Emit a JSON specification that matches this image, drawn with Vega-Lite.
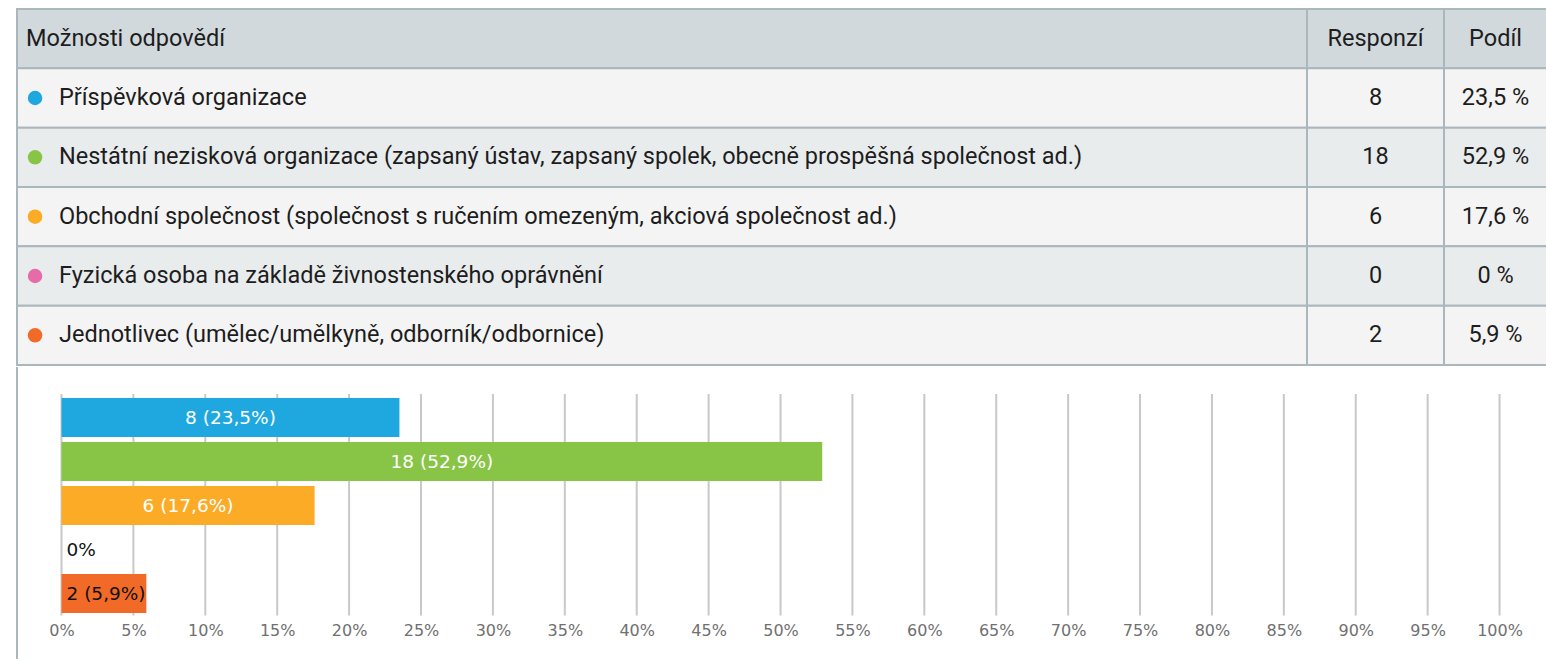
{
  "$schema": "https://vega.github.io/schema/vega-lite/v6.json",
  "background": "white",
  "padding": {"left": 16, "top": 8, "right": 0, "bottom": 0},
  "spacing": 0,
  "config": {"view": {"stroke": null}},
  "datasets": {
    "rows": [
      {"row": "h", "option": "Možnosti odpovědí", "resp": "Responzí", "share": "Podíl"},
      {"row": "1", "option": "Příspěvková organizace", "resp": "8", "share": "23,5 %", "pct": 23.5, "label": "8 (23,5%)"},
      {"row": "2", "option": "Nestátní nezisková organizace (zapsaný ústav, zapsaný spolek, obecně prospěšná společnost ad.)", "resp": "18", "share": "52,9 %", "pct": 52.9, "label": "18 (52,9%)"},
      {"row": "3", "option": "Obchodní společnost (společnost s ručením omezeným, akciová společnost ad.)", "resp": "6", "share": "17,6 %", "pct": 17.6, "label": "6 (17,6%)"},
      {"row": "4", "option": "Fyzická osoba na základě živnostenského oprávnění", "resp": "0", "share": "0 %", "pct": 0, "label": "0%"},
      {"row": "5", "option": "Jednotlivec (umělec/umělkyně, odborník/odbornice)", "resp": "2", "share": "5,9 %", "pct": 5.9, "label": "2 (5,9%)"}
    ],
    "cols": [{"c": 1}, {"c": 2}],
    "ticks": [{"t": 0}, {"t": 5}, {"t": 10}, {"t": 15}, {"t": 20}, {"t": 25}, {"t": 30}, {"t": 35}, {"t": 40}, {"t": 45}, {"t": 50}, {"t": 55}, {"t": 60}, {"t": 65}, {"t": 70}, {"t": 75}, {"t": 80}, {"t": 85}, {"t": 90}, {"t": 95}, {"t": 100}]
  },
  "vconcat": [
    {
      "width": 1530,
      "height": 356,
      "data": {"name": "rows"},
      "encoding": {
        "y": {"field": "row", "type": "nominal", "scale": {"domain": ["h", "1", "2", "3", "4", "5"], "paddingInner": 0, "paddingOuter": 0}, "axis": null}
      },
      "layer": [
        {
          "mark": {"type": "rect", "stroke": "#aab7bd", "strokeWidth": 2},
          "encoding": {
            "x": {"datum": 0, "type": "quantitative", "scale": {"domain": [0, 1, 2, 3], "range": [0, 1290, 1427, 1530], "nice": false, "zero": false}, "axis": null},
            "x2": {"datum": 3},
            "fill": {"field": "row", "type": "nominal", "scale": {"domain": ["h", "1", "2", "3", "4", "5"], "range": ["#d1d9dd", "#f4f4f4", "#e9eced", "#f4f4f4", "#e9eced", "#f4f4f4"]}, "legend": null}
          }
        },
        {
          "data": {"name": "cols"},
          "mark": {"type": "rule", "stroke": "#aab7bd", "strokeWidth": 2},
          "encoding": {
            "x": {"field": "c", "type": "quantitative"},
            "y": null
          }
        },
        {
          "transform": [{"filter": "datum.row != 'h'"}],
          "mark": {"type": "circle", "opacity": 1, "size": 210, "strokeWidth": 0},
          "encoding": {
            "x": {"datum": 0.0140, "type": "quantitative"},
            "color": {"field": "option", "type": "nominal", "legend": null,
              "scale": {"domain": [
                "Příspěvková organizace",
                "Nestátní nezisková organizace (zapsaný ústav, zapsaný spolek, obecně prospěšná společnost ad.)",
                "Obchodní společnost (společnost s ručením omezeným, akciová společnost ad.)",
                "Fyzická osoba na základě živnostenského oprávnění",
                "Jednotlivec (umělec/umělkyně, odborník/odbornice)"],
                "range": ["#1fa8e0", "#88c547", "#fbab26", "#e56ca8", "#f26a27"]}}
          }
        },
        {
          "transform": [{"filter": "datum.row != 'h'"}],
          "mark": {"type": "text", "align": "left", "baseline": "middle", "dx": 42, "font": "Roboto", "fontSize": 23.5, "color": "#1d1d1d"},
          "encoding": {"x": {"datum": 0, "type": "quantitative"}, "text": {"field": "option"}}
        },
        {
          "transform": [{"filter": "datum.row == 'h'"}],
          "mark": {"type": "text", "align": "left", "baseline": "middle", "dx": 9, "font": "Roboto", "fontSize": 23.5, "color": "#1d1d1d"},
          "encoding": {"x": {"datum": 0, "type": "quantitative"}, "text": {"field": "option"}}
        },
        {
          "mark": {"type": "text", "align": "center", "baseline": "middle", "font": "Roboto", "fontSize": 23.5, "color": "#1d1d1d"},
          "encoding": {"x": {"datum": 1.5, "type": "quantitative"}, "text": {"field": "resp"}}
        },
        {
          "mark": {"type": "text", "align": "center", "baseline": "middle", "font": "Roboto", "fontSize": 23.5, "color": "#1d1d1d"},
          "encoding": {"x": {"datum": 2.5, "type": "quantitative"}, "text": {"field": "share"}}
        }
      ]
    },
    {
      "width": 1530,
      "height": 295,
      "layer": [
        {
          "data": {"name": "ticks"},
          "mark": {"type": "rule", "stroke": "#c8c8c8", "strokeWidth": 2},
          "encoding": {
            "x": {"field": "t", "type": "quantitative", "scale": {"domain": [-3.094, 103.3], "nice": false, "zero": false}, "axis": null},
            "y": {"datum": 0, "type": "quantitative", "scale": {"domain": [0, 1], "range": [27, 248.5], "nice": false, "zero": false}, "axis": null},
            "y2": {"datum": 1}
          }
        },
        {
          "data": {"name": "rows"},
          "transform": [{"filter": "datum.row != 'h'"}],
          "encoding": {
            "y": {"field": "option", "type": "nominal", "sort": null, "axis": null,
              "scale": {"domain": [
                "Příspěvková organizace",
                "Nestátní nezisková organizace (zapsaný ústav, zapsaný spolek, obecně prospěšná společnost ad.)",
                "Obchodní společnost (společnost s ručením omezeným, akciová společnost ad.)",
                "Fyzická osoba na základě živnostenského oprávnění",
                "Jednotlivec (umělec/umělkyně, odborník/odbornice)"],
                "range": [28.5, 248.5], "paddingInner": 0.11, "paddingOuter": 0.055}}
          },
          "layer": [
            {
              "mark": {"type": "bar"},
              "encoding": {
                "x": {"field": "pct", "type": "quantitative", "stack": null,
                  "scale": {"domain": [-3.094, 103.3], "nice": false, "zero": false},
                  "axis": {"values": [0, 5, 10, 15, 20, 25, 30, 35, 40, 45, 50, 55, 60, 65, 70, 75, 80, 85, 90, 95, 100],
                    "labelExpr": "datum.value + '%'", "title": null, "grid": false,
                    "domain": false, "ticks": false, "labelPadding": 0, "offset": -40,
                    "labelFont": "DejaVu Sans", "labelFontSize": 16, "labelColor": "#707070"}},
                "x2": {"datum": 0},
                "color": {"field": "option", "type": "nominal", "legend": null}
              }
            },
            {
              "data": {"values": [{"b": -3.094}]},
              "mark": {"type": "rule", "stroke": "#aab7bd", "strokeWidth": 2},
              "encoding": {"x": {"field": "b", "type": "quantitative"}, "y": null}
            },
            {
              "transform": [{"filter": "datum.pct < 10"}],
              "mark": {"type": "text", "align": "left", "baseline": "middle", "dx": 5, "font": "DejaVu Sans", "fontSize": 18.5, "color": "#111111"},
              "encoding": {"x": {"datum": 0, "type": "quantitative"}, "text": {"field": "label"}}
            }
          ]
        },
        {
          "data": {"name": "rows"},
          "transform": [{"filter": "datum.row != 'h'"}, {"filter": "datum.pct >= 10"}],
          "mark": {"type": "text", "align": "center", "baseline": "middle", "font": "DejaVu Sans", "fontSize": 18.5, "color": "white"},
          "encoding": {
            "y": {"field": "option", "type": "nominal", "sort": null, "axis": null,
              "scale": {"domain": [
                "Příspěvková organizace",
                "Nestátní nezisková organizace (zapsaný ústav, zapsaný spolek, obecně prospěšná společnost ad.)",
                "Obchodní společnost (společnost s ručením omezeným, akciová společnost ad.)",
                "Fyzická osoba na základě živnostenského oprávnění",
                "Jednotlivec (umělec/umělkyně, odborník/odbornice)"],
                "range": [28.5, 248.5], "paddingInner": 0.11, "paddingOuter": 0.055}},
            "x": {"field": "pct", "type": "quantitative", "scale": {"domain": [-6.188, 206.6], "nice": false, "zero": false}, "axis": null},
            "text": {"field": "label"}
          }
        }
      ],
      "resolve": {"scale": {"x": "independent", "y": "independent"}}
    }
  ]
}
